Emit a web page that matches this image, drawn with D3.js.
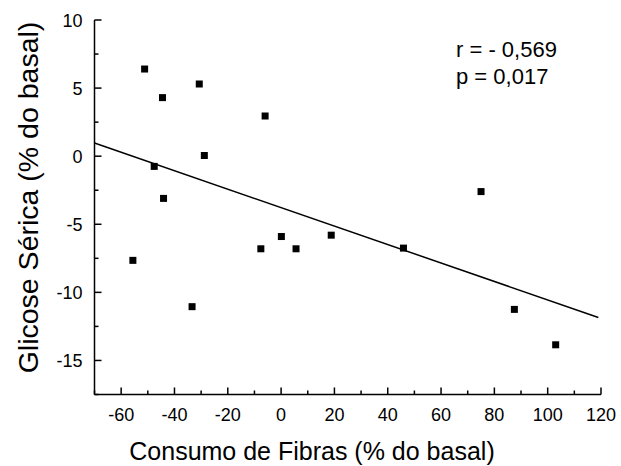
<!DOCTYPE html>
<meta charset="utf-8">
<style>
body { margin: 0; background: #fff; }
text { font-family: Arial, "Liberation Sans", sans-serif; fill: #000; }
</style>
<svg width="621" height="466"></svg>
<script src="https://d3js.org/d3.v7.min.js"></script>
<script>

// Consumo de Fibras (% do basal) vs Glicose Sérica (% do basal)
var fibras  = [-51.2, -30.7, -44.5, -6, -28.8, -47.6, -44.1, -55.6, -33.4, -7.6, 0.1, 5.6, 18.8, 45.9, 75, 87.5, 103];
var glicose = [6.4, 5.3, 4.3, 2.95, 0.05, -0.75, -3.1, -7.65, -11.05, -6.8, -5.9, -6.8, -5.8, -6.75, -2.6, -11.25, -13.85];
var xTicks = [-60, -40, -20, 0, 20, 40, 60, 80, 100, 120];
var yTicks = [10, 5, 0, -5, -10, -15];
var stats = ["r = - 0,569", "p = 0,017"];

var svg = d3.select("svg");

var x = d3.scaleLinear()
    .domain([-70, 120])
    .range([94.5, 601]);

var y = d3.scaleLinear()
    .domain([-17.5, 10])
    .range([394.5, 20]);

// axes (ticks point inward)
var xAxis = svg.append("g").attr("transform", "translate(0," + y(-17.5) + ")");
xAxis.append("line")
    .attr("x1", x(-70)).attr("x2", x(120))
    .attr("stroke", "black").attr("stroke-width", 1.5);
xAxis.selectAll(".minor")
    .data(d3.range(-70, 121, 10))
    .enter().append("line")
    .attr("x1", d => x(d)).attr("x2", d => x(d))
    .attr("y1", 0).attr("y2", d => (d % 20 == 0) ? -7 : -4)
    .attr("stroke", "black").attr("stroke-width", 1.5);
xAxis.selectAll(".lab")
    .data(xTicks)
    .enter().append("text")
    .attr("x", d => x(d))
    .attr("y", 26)
    .attr("text-anchor", "middle")
    .attr("font-size", "18px")
    .text(d => d);

var yAxis = svg.append("g").attr("transform", "translate(" + x(-70) + ",0)");
yAxis.append("line")
    .attr("y1", y(-17.5)).attr("y2", y(10))
    .attr("stroke", "black").attr("stroke-width", 1.5);
yAxis.selectAll(".minor")
    .data(d3.range(-17.5, 10.1, 2.5))
    .enter().append("line")
    .attr("y1", d => y(d)).attr("y2", d => y(d))
    .attr("x1", 0).attr("x2", d => (d % 5 == 0) ? 7 : 4)
    .attr("stroke", "black").attr("stroke-width", 1.5);
yAxis.selectAll(".lab")
    .data(yTicks)
    .enter().append("text")
    .attr("x", -12)
    .attr("y", d => y(d) + 6.5)
    .attr("text-anchor", "end")
    .attr("font-size", "18px")
    .text(d => d);

// titles
svg.append("text")
    .attr("x", 312)
    .attr("y", 460)
    .attr("text-anchor", "middle")
    .attr("font-size", "25px")
    .text("Consumo de Fibras (% do basal)");

svg.append("text")
    .attr("transform", "translate(38,197.5) rotate(-90)")
    .attr("text-anchor", "middle")
    .attr("font-size", "28.5px")
    .text("Glicose Sérica (% do basal)");

// regression line (least squares from the points)
var mx = d3.mean(fibras), my = d3.mean(glicose);
var sxy = d3.sum(fibras, (d, i) => (d - mx) * (glicose[i] - my));
var sxx = d3.sum(fibras, d => (d - mx) * (d - mx));
var slope = sxy / sxx, icpt = my - slope * mx;

svg.append("line")
    .attr("x1", x(-70)).attr("y1", y(icpt + slope * -70))
    .attr("x2", x(119)).attr("y2", y(icpt + slope * 119))
    .attr("stroke", "black").attr("stroke-width", 1.5);

// points
svg.selectAll(".pt")
    .data(fibras)
    .enter().append("rect")
    .attr("x", d => x(d) - 3.5)
    .attr("y", (d, i) => y(glicose[i]) - 3.5)
    .attr("width", 7).attr("height", 7)
    .attr("fill", "black");

svg.selectAll(".stat")
    .data(stats)
    .enter().append("text")
    .attr("x", 456)
    .attr("y", (d, i) => 56.5 + i * 27)
    .attr("font-size", "22px")
    .text(d => d);

</script>
